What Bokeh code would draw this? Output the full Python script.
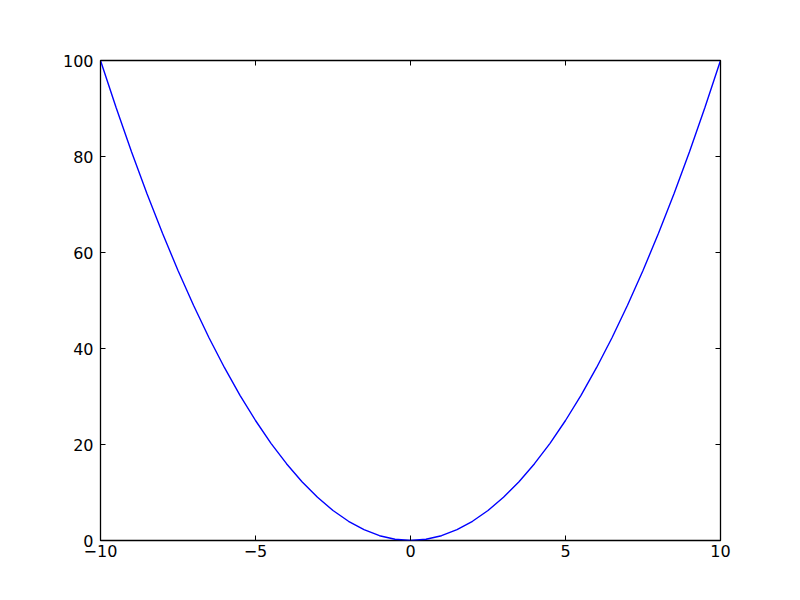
from bokeh.plotting import figure
from bokeh.models import LinearAxis, FixedTicker, Range1d
from bokeh.embed import file_html
from bokeh.resources import INLINE

# points
x_vals = [-10, -9.5, -9, -8.5, -8, -7.5, -7, -6.5, -6, -5.5, -5, -4.5, -4, -3.5, -3, -2.5, -2, -1.5, -1, -0.5,
          0, 0.5, 1, 1.5, 2, 2.5, 3, 3.5, 4, 4.5, 5, 5.5, 6, 6.5, 7, 7.5, 8, 8.5, 9, 9.5, 10]
y_vals = [100, 90.25, 81, 72.25, 64, 56.25, 49, 42.25, 36, 30.25, 25, 20.25, 16, 12.25, 9, 6.25, 4, 2.25, 1, 0.25,
          0, 0.25, 1, 2.25, 4, 6.25, 9, 12.25, 16, 20.25, 25, 30.25, 36, 42.25, 49, 56.25, 64, 72.25, 81, 90.25, 100]

x_ticks = [-10, -5, 0, 5, 10]
y_ticks = [0, 20, 40, 60, 80, 100]
x_tick_labels = {-10: "\u221210", -5: "\u22125", 0: "0", 5: "5", 10: "10"}

FONT = "DejaVu Sans"

p = figure(width=784, height=584, output_backend="svg", toolbar_location=None,
           x_range=Range1d(-10, 10), y_range=Range1d(0, 100),
           min_border_left=100, min_border_right=64, min_border_top=60, min_border_bottom=44)
p.background_fill_color = "white"
p.border_fill_color = "white"
p.outline_line_color = "black"
p.outline_line_width = 1.3
p.xgrid.visible = False
p.ygrid.visible = False

p.line(x_vals, y_vals, line_color="#0000ff", line_width=1.4)


def style_axis(ax, ticks, show_labels=True, standoff=5):
    ax.ticker = FixedTicker(ticks=ticks)
    ax.axis_line_color = None
    ax.major_tick_in = 5
    ax.major_tick_out = 0
    ax.major_tick_line_color = "black"
    ax.minor_tick_line_color = None
    ax.major_label_standoff = standoff
    ax.major_label_text_font = FONT
    if show_labels:
        ax.major_label_text_font_size = "16px"
        ax.major_label_text_color = "black"
    else:
        ax.major_label_text_font_size = "0px"
        ax.major_label_text_color = None


style_axis(p.xaxis[0], x_ticks, standoff=4)
p.xaxis[0].major_label_overrides = x_tick_labels
style_axis(p.yaxis[0], y_ticks, standoff=7)

top_axis = LinearAxis()
style_axis(top_axis, x_ticks, show_labels=False, standoff=0)
p.add_layout(top_axis, "above")
right_axis = LinearAxis()
style_axis(right_axis, y_ticks, show_labels=False, standoff=0)
p.add_layout(right_axis, "right")

open("out.html", "w").write(file_html(p, INLINE))
